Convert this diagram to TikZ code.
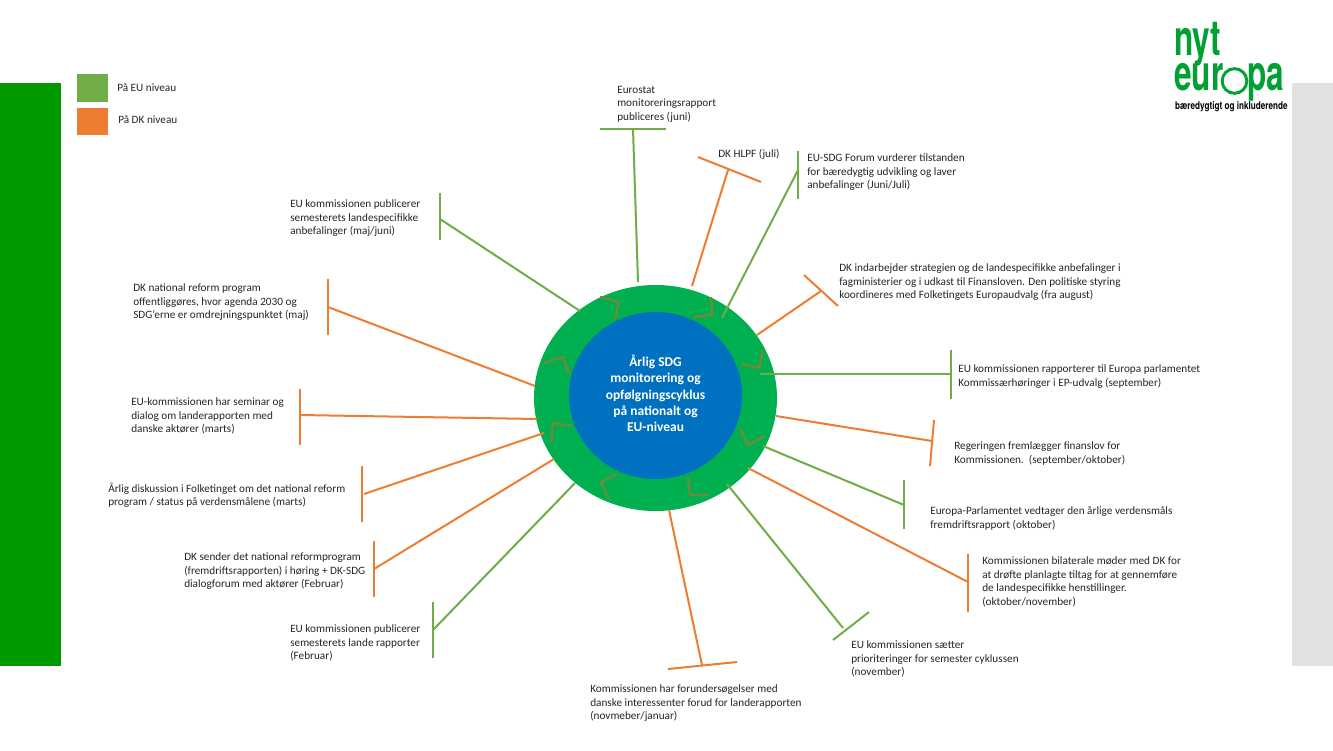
\documentclass[tikz,border=0pt]{standalone}
\usepackage{fontspec}
\setmainfont{Carlito}
\newfontfamily\logofont{TeX Gyre Heros}
\usetikzlibrary{shapes.geometric}
\definecolor{eugreen}{HTML}{70AD47}
\definecolor{dkorange}{HTML}{ED7D31}
\definecolor{sidegreen}{HTML}{009900}
\definecolor{sidegray}{HTML}{E2E2E2}
\definecolor{ringgreen}{HTML}{00B050}
\definecolor{coreblue}{HTML}{0070C0}
\definecolor{chev}{HTML}{6F8A3A}
\definecolor{logogreen}{HTML}{00A032}
\definecolor{labelink}{HTML}{262626}
\tikzset{
  lbl/.style={anchor=north west,inner sep=0pt,align=left,text=labelink,yshift=-2pt,font=\fontsize{8.42}{10.15}\selectfont},
  eulink/.style={draw=eugreen,line width=1.5pt},
  dklink/.style={draw=dkorange,line width=1.5pt},
  chevron/.style={draw=chev,line width=1.8pt},
  swatch/.style={anchor=north west,inner sep=0pt,minimum width=23.25pt,minimum height=21pt},
  logotxt/.style={anchor=base west,inner sep=0pt,text=logogreen,font=\logofont\fontsize{37}{37}\selectfont\bfseries,xscale=0.64,transform shape},
}
% name, style, from, to, bar end a, bar end b
\newcommand{\spoke}[6]{%
  \coordinate (#1s) at (#3);
  \coordinate (#1e) at (#4);
  \coordinate (#1a) at (#5);
  \coordinate (#1b) at (#6);
  \draw[#2] (#1s) -- (#1e);
  \draw[#2] (#1a) -- (#1b);
}
\begin{document}
\begin{tikzpicture}[x=0.75pt,y=-0.75pt]
\useasboundingbox (0,0) rectangle (1333,750);
\fill[white] (0,0) rectangle (1333,750);
\fill[sidegreen] (0,83) rectangle (61,666);
\fill[sidegray] (1292,83) rectangle (1333,666);
% legend
\node[swatch,fill=eugreen] (legeu) at (77,74) {};
\node[swatch,fill=dkorange,minimum height=20pt] (legdk) at (77,108) {};
\node[lbl] (legeut) at (117,81) {På EU niveau};
\node[lbl] (legdkt) at (118,113) {På DK niveau};
% ring
\node[ellipse,fill=ringgreen,inner sep=0pt,minimum width=182.25pt,minimum height=169.5pt] (ring) at (655.5,398) {};
% spokes
\spoke{a}{eulink}{638,282}{633,129}{600,129}{666,129}
\spoke{b}{dklink}{692,286}{728,170}{698,157}{761,182}
\spoke{c}{eulink}{722,318}{798,170}{798,151}{798,199}
\spoke{d}{dklink}{757,335}{821,291}{804,275}{838,306}
\spoke{e}{eulink}{760,374}{951,374}{951,350}{951,399}
\spoke{f}{dklink}{776,416}{932,441}{934,420}{930,466}
\spoke{g}{eulink}{763,446}{904,505}{904,480}{904,529}
\spoke{h}{dklink}{748,468}{968,582}{968,554}{968,612}
\spoke{i}{eulink}{727,484}{843,628}{833,640}{869,612}
\spoke{j}{dklink}{669,510}{702,665}{668,669}{737,662}
\spoke{k}{eulink}{575,483}{433,630}{433,602}{433,658}
\spoke{l}{dklink}{554,459}{374,569}{374,541}{374,597}
\spoke{m}{dklink}{544,433}{364,494}{362,466}{362,522}
\spoke{n}{dklink}{537,419}{300,415}{300,389}{300,445}
\spoke{o}{dklink}{535,386}{328,307}{328,279}{328,335}
\spoke{p}{eulink}{580,311}{440,219}{440,193}{440,240}
% core
\node[ellipse,fill=coreblue,inner sep=0pt,minimum width=129.75pt,minimum height=125.25pt] (core) at (655.5,395.5) {};
\node[inner sep=0pt,text=white,align=center,font=\fontsize{10.1}{12.2}\selectfont\bfseries] (coretext) at (655.5,393.5) {Årlig SDG\\monitorering og\\opfølgningscyklus\\på nationalt og\\EU-niveau};
% chevrons
\draw[chevron] (600,297)--(619,302)--(615,319);
\draw[chevron] (711,297)--(712,315)--(694,317);
\draw[chevron] (763,350)--(759,368)--(741,364);
\draw[chevron] (765,436)--(748,445)--(740,429);
\draw[chevron] (688,477)--(690,495)--(708,495);
\draw[chevron] (617,474)--(601,482)--(609,499);
\draw[chevron] (572,426)--(553,423)--(551,443);
\draw[chevron] (544,363)--(563,357)--(569,374);
% labels
\node[lbl] (ta) at (617,83) {Eurostat\\monitoreringsrapport\\publiceres (juni)};
\node[lbl] (tb) at (718,146) {DK HLPF (juli)};
\node[lbl] (tc) at (807,151) {EU-SDG Forum vurderer tilstanden\\for bæredygtig udvikling og laver\\anbefalinger (Juni/Juli)};
\node[lbl] (td) at (839,261) {DK indarbejder strategien og de landespecifikke anbefalinger i\\fagministerier og i udkast til Finansloven. Den politiske styring\\koordineres med Folketingets Europaudvalg (fra august)};
\node[lbl] (te) at (958,362) {EU kommissionen rapporterer til Europa parlamentet\\Kommissærhøringer i EP-udvalg (september)};
\node[lbl] (tf) at (954,439) {Regeringen fremlægger finanslov for\\Kommissionen.\ \ (september/oktober)};
\node[lbl] (tg) at (930,504) {Europa-Parlamentet vedtager den årlige verdensmåls\\fremdriftsrapport (oktober)};
\node[lbl] (th) at (982,554) {Kommissionen bilaterale møder med DK for\\at drøfte planlagte tiltag for at gennemføre\\de landespecifikke henstillinger.\\(oktober/november)};
\node[lbl] (ti) at (851,638) {EU kommissionen sætter\\prioriteringer for semester cyklussen\\(november)};
\node[lbl] (tj) at (590,682) {Kommissionen har forundersøgelser med\\danske interessenter forud for landerapporten\\(novmeber/januar)};
\node[lbl] (tk) at (290,622) {EU kommissionen publicerer\\semesterets lande rapporter\\(Februar)};
\node[lbl] (tl) at (184,550) {DK sender det national reformprogram\\(fremdriftsrapporten) i høring + DK-SDG\\dialogforum med aktører (Februar)};
\node[lbl] (tm) at (108,480) {Årlig diskussion i Folketinget om det national reform\\program / status på verdensmålene (marts)};
\node[lbl] (tn) at (131,395) {EU-kommissionen har seminar og\\dialog om landerapporten med\\danske aktører (marts)};
\node[lbl] (to) at (133,281) {DK national reform program\\offentliggøres, hvor agenda 2030 og\\SDG'erne er omdrejningspunktet (maj)};
\node[lbl] (tp) at (290,197) {EU kommissionen publicerer\\semesterets landespecifikke\\anbefalinger (maj/juni)};
% logo
\node[logotxt] (lnyt) at (1174,55) {nyt};
\node[logotxt] (leur) at (1174,90) {eur};
\node[circle,draw=logogreen,line width=2.2pt,minimum width=18.5pt,inner sep=0pt] (lring) at (1234.5,81) {};
\node[logotxt] (lpa) at (1247,90) {pa};
\node[anchor=north west,inner sep=0pt,text=black,font=\logofont\fontsize{8}{8}\selectfont\bfseries,xscale=0.765,transform shape] (lsub) at (1175,101) {bæredygtigt og inkluderende};
\end{tikzpicture}
\end{document}
